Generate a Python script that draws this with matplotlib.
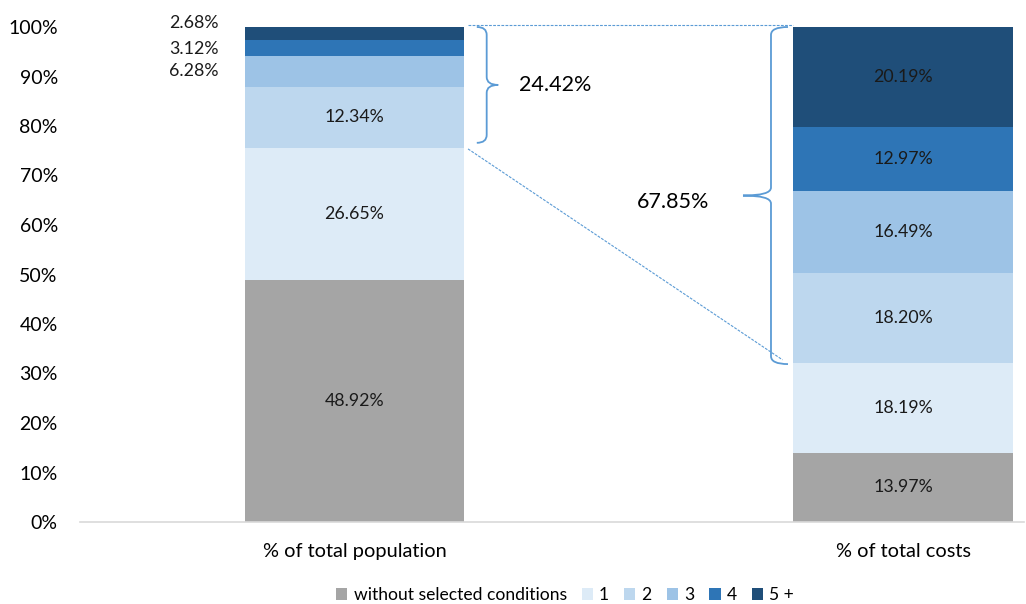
import matplotlib
matplotlib.use('Agg')
import matplotlib.pyplot as plt
from matplotlib.path import Path
from matplotlib.patches import PathPatch, Patch
import numpy as np

plt.rcParams['font.family'] = ['Lato', 'DejaVu Sans']

categories = ['% of total population', '% of total costs']
groups = ['without selected conditions', '1', '2', '3', '4', '5 +']
population = [48.92, 26.65, 12.34, 6.28, 3.12, 2.68]
costs = [13.97, 18.19, 18.20, 16.49, 12.97, 20.19]
colors = ['#A5A5A5', '#DDEBF7', '#BDD7EE', '#9DC3E6', '#2E75B6', '#1F4E79']
pop_share_3plus = '24.42%'
cost_share_3plus = '67.85%'

fig = plt.figure(figsize=(10.26, 6.04), dpi=100)
ax = fig.add_axes([80 / 1026, 82 / 604, 944 / 1026, 495 / 604])

x = np.arange(len(categories))
width = 0.4
series = np.array([population, costs]).T
bottom = np.zeros(len(categories))
for i, g in enumerate(groups):
    ax.bar(x, series[i], width, bottom=bottom, color=colors[i], label=g, linewidth=0)
    for j in range(len(categories)):
        v = series[i][j]
        if j == 0 and i >= 3:
            continue
        ax.text(x[j], bottom[j] + v / 2, f'{v:.2f}%', ha='center', va='center',
                fontsize=12.8, color='#1a1a1a')
    bottom += series[i]

# small slices of the population bar labelled to the left
ypos = [91.1, 95.6, 100.8]
for k, i in enumerate([3, 4, 5]):
    ax.text(-0.247, ypos[k], f'{population[i]:.2f}%', ha='right', va='center',
            fontsize=12.8, color='#1a1a1a')

ax.set_xlim(-0.5, 1.22)
ax.set_ylim(0, 100)
ax.set_yticks(np.arange(0, 101, 10))
ax.set_yticklabels([f'{t}%' for t in range(0, 101, 10)], fontsize=14)
ax.set_xticks(x)
ax.set_xticklabels(categories, fontsize=14.4)
ax.tick_params(length=0)
ax.tick_params(axis='y', pad=16)
ax.tick_params(axis='x', pad=15)
for s in ['top', 'left', 'right']:
    ax.spines[s].set_visible(False)
ax.spines['bottom'].set_color('#D9D9D9')
ax.spines['bottom'].set_linewidth(1.2)

# dashed connector lines
low_pop = population[0] + population[1]
low_cost = costs[0] + costs[1]
line_kw = dict(color='#5B9BD5', linestyle=(0, (2.5, 1.2)), linewidth=0.8, clip_on=False)
ax.plot([0.207, 0.8], [100.4, 100.4], **line_kw)
ax.plot([0.207, 0.78], [low_pop - 0.2, low_cost + 0.6], **line_kw)


def brace(x_end, x_spine, x_tip, y_top, y_bot, r=1.6):
    y_mid = (y_top + y_bot) / 2
    verts = [(x_end, y_top), (x_spine, y_top), (x_spine, y_top - r),
             (x_spine, y_mid + r), (x_spine, y_mid), (x_tip, y_mid),
             (x_spine, y_mid), (x_spine, y_mid - r),
             (x_spine, y_bot + r), (x_spine, y_bot), (x_end, y_bot)]
    codes = [Path.MOVETO, Path.CURVE3, Path.CURVE3,
             Path.LINETO, Path.CURVE3, Path.CURVE3,
             Path.CURVE3, Path.CURVE3,
             Path.LINETO, Path.CURVE3, Path.CURVE3]
    ax.add_patch(PathPatch(Path(verts, codes), fill=False, edgecolor='#5B9BD5',
                           linewidth=1.3, clip_on=False))


brace(0.223, 0.241, 0.262, 100, 76.6)
brace(0.79, 0.759, 0.708, 100, 31.9)

ax.text(0.30, 88.3, pop_share_3plus, ha='left', va='center', fontsize=15.5)
ax.text(0.514, 64.6, cost_share_3plus, ha='left', va='center', fontsize=15.5)

handles = [Patch(facecolor=c, edgecolor='none') for c in colors]
fig.legend(handles, groups, loc='center', bbox_to_anchor=(565 / 1026, 9 / 604),
           ncol=6, frameon=False, fontsize=12.6, handlelength=0.65, handleheight=0.65,
           handletextpad=0.35, columnspacing=0.85, borderpad=0.1)

fig.savefig('out.png', dpi=100)
